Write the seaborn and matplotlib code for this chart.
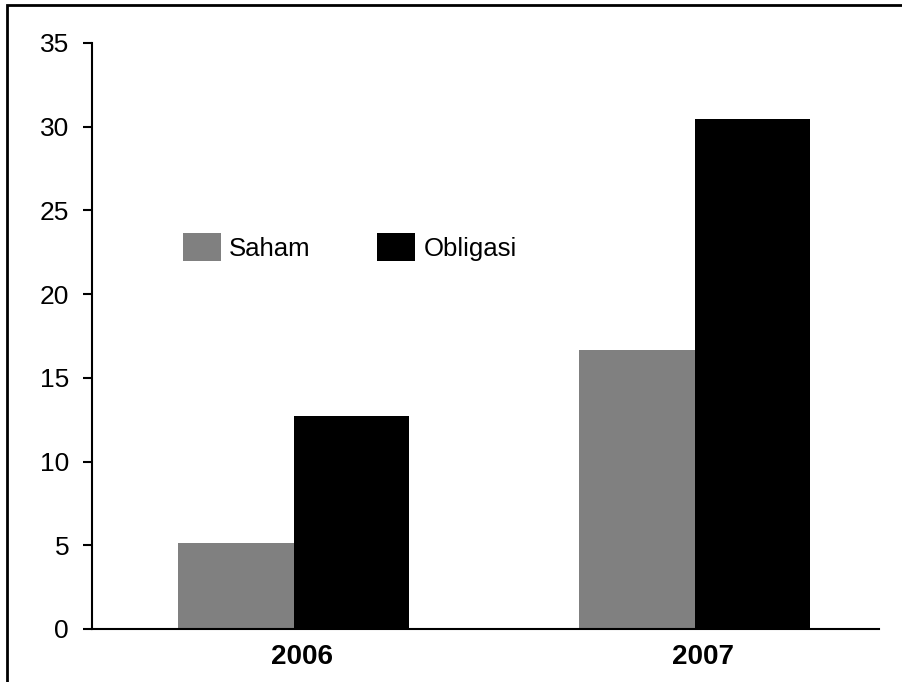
import matplotlib
matplotlib.use("Agg")
import matplotlib.pyplot as plt
import matplotlib.patches as mpatches
import matplotlib.transforms as mtransforms
import pandas as pd
import seaborn as sns

# Values (in trillions) per year and instrument
years = ["2006", "2007"]
saham = [5.15, 16.65]
obligasi = [12.7, 30.45]
series_names = ["Saham", "Obligasi"]
series_colors = ["#808080", "#000000"]
y_ticks = [0, 5, 10, 15, 20, 25, 30, 35]

df = pd.DataFrame({
    "tahun": years * 2,
    "jenis": [series_names[0]] * len(years) + [series_names[1]] * len(years),
    "nilai": saham + obligasi,
})

sns.set_style("white")
plt.rcParams["font.family"] = ["Liberation Sans", "DejaVu Sans"]
plt.rcParams["text.color"] = "black"
plt.rcParams["xtick.color"] = "black"
plt.rcParams["ytick.color"] = "black"

fig = plt.figure(figsize=(9.02, 6.82), dpi=100)
ax = fig.add_axes([92 / 902, 53 / 682, 787 / 902, 586 / 682])

palette = dict(zip(series_names, series_colors))
sns.barplot(data=df, x="tahun", y="nilai", hue="jenis", order=years,
            hue_order=series_names, palette=palette, width=0.576,
            linewidth=0, saturation=1, legend=False, ax=ax, errorbar=None)

ax.set_xlim(-0.5025, 1.46)
ax.set_ylim(0, 35)
ax.set_yticks(y_ticks)
ax.set_yticklabels([str(v) for v in y_ticks], fontsize=19)
ax.set_xlabel("")
ax.set_ylabel("")

# Category labels, with boundary tick marks between categories
ax.set_xticks([0, 1])
ax.set_xticklabels(years, fontsize=20, fontweight="bold")
ax.set_xticks([-0.5025, 0.5, 1.46], minor=True)
ax.tick_params(axis="x", which="major", length=0, pad=11)
ax.tick_params(axis="x", which="minor", length=6, width=1.5,
               direction="out", color="black")
ax.tick_params(axis="y", length=6.5, width=1.5, direction="out",
               color="black", pad=10, left=True)
offset = mtransforms.ScaledTranslation(8 / 100, 0, fig.dpi_scale_trans)
for lbl in ax.get_xticklabels():
    lbl.set_transform(lbl.get_transform() + offset)

for side in ["top", "right"]:
    ax.spines[side].set_visible(False)
for side in ["left", "bottom"]:
    ax.spines[side].set_color("black")
    ax.spines[side].set_linewidth(1.5)

handles = [mpatches.Patch(facecolor=c, edgecolor="none", label=n)
           for n, c in zip(series_names, series_colors)]
fig.legend(handles=handles, loc="upper left",
           bbox_to_anchor=(183 / 902, 1 - 233 / 682),
           ncol=2, frameon=False, fontsize=18.5, borderpad=0,
           borderaxespad=0, handlelength=1.48, handleheight=1.32,
           handletextpad=0.31, columnspacing=2.6)

# Outer frame around the chart area
fig.patches.append(mpatches.Rectangle(
    (7 / 902, -0.05), 1.0, (1 - 5 / 682) + 0.05,
    transform=fig.transFigure, fill=False, edgecolor="black",
    linewidth=2, zorder=10))

fig.savefig("out.png", dpi=100, facecolor="white")
